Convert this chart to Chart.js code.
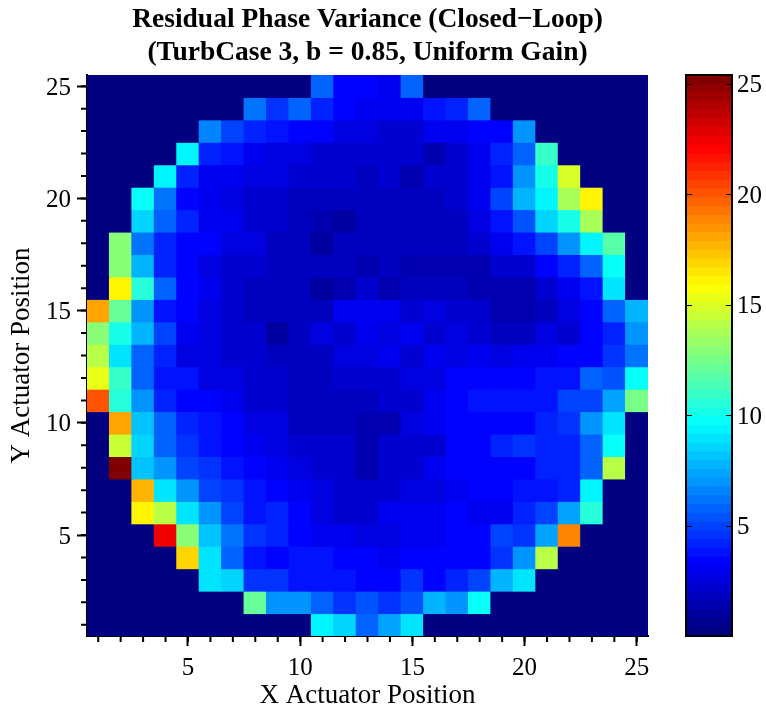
<!DOCTYPE html>
<html>
<head>
<meta charset="utf-8">
<title>Residual Phase Variance</title>
<script src="https://cdn.jsdelivr.net/npm/chart.js@4"></script>
<style>
  body { margin: 0; background: #fff; }
  #wrap { position: relative; width: 766px; height: 711px; overflow: hidden; }
  canvas { position: absolute; top: 0; }
  #mapChart { left: 0; }
  #barChart { left: 660px; }
</style>
</head>
<body>
<div id="wrap">
  <canvas id="mapChart" width="660" height="711"></canvas>
  <canvas id="barChart" width="106" height="711"></canvas>
</div>
<script>
// Actuator positions and labelled ticks
const xLabels = ['1','2','3','4','5','6','7','8','9','10','11','12','13','14','15','16','17','18','19','20','21','22','23','24','25'];
const rowPositions = [25,24,23,22,21,20,19,18,17,16,15,14,13,12,11,10,9,8,7,6,5,4,3,2,1];
const axisTicks = [5,10,15,20,25];

// Variance per cell, top row (y = 25) first
const variance = [
  [0,0,0,0,0,0,0,0,0,0,5.7,3.5,3.4,3.1,5.7,0,0,0,0,0,0,0,0,0,0],
  [0,0,0,0,0,0,0,6.3,4.7,5.6,4,3.4,2.8,3,3,3.8,4.2,5.6,0,0,0,0,0,0,0],
  [0,0,0,0,0,6.7,5.1,4.3,3.6,3.2,3.2,2.7,2.6,2.3,2.3,3,3,3.4,3.4,7,0,0,0,0,0],
  [0,0,0,0,9.5,4.2,3.8,3,2.7,2.5,2.2,2.2,2.1,2.1,2.1,1.3,2,2.8,4.2,5.8,11,0,0,0,0],
  [0,0,0,9.2,4.2,3,2.9,2.5,2.4,2.3,2.2,2.1,1.6,2,1.5,2,2,3,3.7,6.8,10,15,0,0,0],
  [0,0,9.6,6.3,3.5,2.9,2.4,2.3,2.2,1.7,1.7,1.7,1.6,1.6,1.6,1.8,2.2,2.9,4.9,7.6,9.2,13.6,16.2,0,0],
  [0,0,8.4,5.8,4,2.9,2.9,2.1,2.1,1.7,1.2,1.1,1.7,1.7,1.7,1.6,1.9,2.7,3.7,5.4,8.4,10.2,13.6,0,0],
  [0,12.7,6.3,4.2,3.4,3.2,2.7,2.4,1.9,1.8,1.1,1.7,1.7,1.7,1.7,1.6,1.6,2.3,2.9,3.7,5.1,6.9,9.3,11.7,0],
  [0,12.7,7.6,4.2,3.2,2.4,2.2,2.2,1.8,1.7,1.7,1.7,1.4,1.9,1.3,1.2,1.2,1.3,2.2,2.2,3.2,4.2,5.9,9.6,0],
  [0,16.2,10.4,5.6,3.5,3,2.2,1.6,1.6,1.7,0.9,1.4,2,1.3,1.9,1.9,1.9,1.4,1.2,1.5,2.2,3,3.6,8.9,0],
  [18,12,7,3.8,3.4,2.4,2.2,1.7,1.8,1.8,1.6,2.8,2.9,2.9,2.2,2.7,2.2,2.1,1.3,1.2,1.8,2.4,3.2,5.6,7.6],
  [12.7,10,7.8,4.9,3,2.6,2.3,2.2,0.9,1.8,2.4,2.2,2.9,2.5,3,2,2.4,2.1,1.8,1.8,2.4,2.2,3.2,4.2,7],
  [14,8.9,5.8,4.1,2.7,2.7,2.2,2.2,1.9,1.9,1.9,2.7,2.7,3.1,2.3,3,2.5,2.9,2.6,3,3,3.5,3.5,4.5,6.3],
  [15.4,10.8,5.9,3.7,3.7,2.7,2.5,2.3,2.3,1.9,1.9,2.1,2.1,2.1,2.7,2.7,3.4,3.4,3.4,3.4,3.7,3.7,5.9,5.2,9.6],
  [20.2,10.4,7.1,4.3,3.2,3.4,3,2.2,2.2,1.8,1.8,1.8,1.6,2.1,2.1,2.9,3.2,3.7,3.7,3.7,3.7,4.8,4.8,7.4,12.4],
  [0,18,8.3,5.6,4.3,3.7,3.4,2.7,2.4,1.8,1.8,1.8,1.4,1.4,2.6,3,3.4,3.4,3.5,3.5,4,4.5,6.8,8.9,0],
  [0,14.4,8.7,5.9,4.7,3.6,3.4,2.8,2.7,2.2,2.2,2.1,1.5,2,2,2.3,3.3,3.3,4,4.6,4,4.3,5.9,9.6,0],
  [0,25.4,8.3,6.9,5.1,4.4,3.8,3.2,3,2.7,2.2,2.2,1.5,2.1,2.1,3,3.2,3.4,3.4,3.4,4,4,5.8,13.9,0],
  [0,0,17.5,8.9,6.9,4.9,4.4,3.6,3.2,2.9,2.4,2.2,2.1,2.1,2.6,2.5,2.9,3.5,3.2,3.6,3.6,4.2,9.5,0,0],
  [0,0,15.9,14,8.9,6.9,5.1,3.8,4.1,3.2,2.7,2.2,2.1,3,3,3,3.3,2.9,2.9,4,5.1,7.4,10.7,0,0],
  [0,0,0,22.6,12.7,8.3,6.2,4.4,4.2,3.4,2.9,2.9,2.5,2.5,3,3,3.2,3.3,5.1,4.6,7.3,18.8,0,0,0],
  [0,0,0,0,16.7,9,5.8,3.8,3.2,3.7,3.7,3.2,3.2,3,3.2,3.2,3.2,3.3,4.5,6.9,13.9,0,0,0,0],
  [0,0,0,0,0,9,8.4,4.5,4.5,3.7,3.7,3.7,3.2,3.5,4.5,3.2,4.3,5.1,7.6,8.9,0,0,0,0,0],
  [0,0,0,0,0,0,0,12,7,7,5.6,4.5,5.2,4.4,5.2,7.6,6.9,9.6,0,0,0,0,0,0,0],
  [0,0,0,0,0,0,0,0,0,0,9.4,8.5,5.8,7.4,9,0,0,0,0,0,0,0,0,0,0],
];

const colorMax = 25.4;
const colorLevels = 64;
const serif = "'Liberation Serif', 'Times New Roman', serif";

// Jet colormap, split into discrete levels like the colour bar
function jetColor(value) {
  const level = Math.min(colorLevels - 1, Math.floor((value / colorMax) * colorLevels));
  const t = level / (colorLevels - 1);
  const channel = (c) => Math.round(255 * Math.max(0, Math.min(1, 1.5 - Math.abs(4 * t - c))));
  return `rgb(${channel(3)},${channel(2)},${channel(1)})`;
}

// Chart.js has one tick length per axis, so the short ticks go here
const minorTicks = {
  id: 'minorTicks',
  afterDraw(chart) {
    const { ctx, chartArea, scales } = chart;
    ctx.save();
    ctx.strokeStyle = '#000';
    ctx.lineWidth = 2;
    ctx.beginPath();
    rowPositions.forEach((v) => {
      const y = scales.y.getPixelForValue(v);
      ctx.moveTo(chartArea.left - 6, y);
      ctx.lineTo(chartArea.left, y);
    });
    xLabels.forEach((label, i) => {
      const x = scales.x.getPixelForValue(i);
      ctx.moveTo(x, chartArea.bottom);
      ctx.lineTo(x, chartArea.bottom + 6);
    });
    ctx.stroke();
    ctx.restore();
  },
};

new Chart(document.getElementById('mapChart').getContext('2d'), {
  type: 'bar',
  data: {
    labels: xLabels,
    datasets: variance.map((row, r) => ({
      data: row.map((v) => [rowPositions[r] - 0.5, rowPositions[r] + 0.5]),
      backgroundColor: row.map((v) => jetColor(v)),
      borderWidth: 0,
      inflateAmount: 0.5,
      barPercentage: 1,
      categoryPercentage: 1,
    })),
  },
  options: {
    responsive: false,
    animation: false,
    layout: { padding: { left: 0, right: 12, top: 0, bottom: 0 } },
    plugins: {
      legend: { display: false },
      tooltip: { enabled: false },
      title: {
        display: true,
        fullSize: false,
        text: ['Residual Phase Variance (Closed\u2212Loop)', '(TurbCase 3, b = 0.85, Uniform Gain)'],
        color: '#000',
        font: { family: serif, size: 27.5, weight: 'bold', lineHeight: 1.2 },
        padding: { top: 3, bottom: 6 },
      },
    },
    scales: {
      x: {
        stacked: true,
        afterBuildTicks(scale) {
          scale.ticks = axisTicks.map((v) => ({ value: v - 1 }));
        },
        afterFit(scale) {
          scale.height = 75;
        },
        grid: { offset: false, drawOnChartArea: false, tickLength: 10, tickWidth: 2, tickColor: '#000' },
        border: { display: true, color: '#000', width: 2 },
        ticks: {
          autoSkip: false,
          maxRotation: 0,
          color: '#000',
          padding: 7,
          font: { family: serif, size: 25 },
        },
        title: {
          display: true,
          text: 'X Actuator Position',
          color: '#000',
          font: { family: serif, size: 27 },
          padding: { top: 0, bottom: -1 },
        },
      },
      y: {
        min: 0.5,
        max: 25.5,
        afterBuildTicks(scale) {
          scale.ticks = axisTicks.map((v) => ({ value: v }));
        },
        afterFit(scale) {
          scale.width = 87;
        },
        grid: { drawOnChartArea: false, tickLength: 10, tickWidth: 2, tickColor: '#000' },
        border: { display: true, color: '#000', width: 2 },
        ticks: {
          color: '#000',
          padding: 6,
          labelOffset: 2,
          font: { family: serif, size: 25 },
        },
        title: {
          display: true,
          text: 'Y Actuator Position',
          color: '#000',
          font: { family: serif, size: 27 },
          padding: { top: 6, bottom: 0 },
        },
      },
    },
  },
  plugins: [minorTicks],
});

// Colour bar frame and its inward ticks
const barFrame = {
  id: 'barFrame',
  afterDraw(chart) {
    const { ctx, chartArea, scales } = chart;
    ctx.save();
    ctx.strokeStyle = '#000';
    ctx.lineWidth = 2;
    ctx.strokeRect(chartArea.left, chartArea.top, chartArea.right - chartArea.left, chartArea.bottom - chartArea.top);
    ctx.lineWidth = 1;
    ctx.beginPath();
    axisTicks.forEach((v) => {
      const y = Math.round(scales.y.getPixelForValue(v)) + 0.5;
      ctx.moveTo(chartArea.left, y);
      ctx.lineTo(chartArea.left + 6, y);
      ctx.moveTo(chartArea.right - 6, y);
      ctx.lineTo(chartArea.right, y);
    });
    ctx.stroke();
    ctx.restore();
  },
};

const barBands = [];
const barColors = [];
for (let i = 0; i < colorLevels; i++) {
  const lo = (i / colorLevels) * colorMax;
  const hi = ((i + 1) / colorLevels) * colorMax;
  barBands.push([lo, hi]);
  barColors.push(jetColor((lo + hi) / 2));
}

new Chart(document.getElementById('barChart').getContext('2d'), {
  type: 'bar',
  data: {
    labels: [''],
    datasets: barBands.map((band, i) => ({
      data: [band],
      backgroundColor: barColors[i],
      borderWidth: 0,
      inflateAmount: 0.5,
      barPercentage: 1,
      categoryPercentage: 1,
    })),
  },
  options: {
    responsive: false,
    animation: false,
    layout: { padding: { left: 26, right: 0, top: 75, bottom: 0 } },
    plugins: { legend: { display: false }, tooltip: { enabled: false } },
    scales: {
      x: {
        stacked: true,
        afterFit(scale) {
          scale.height = 75;
        },
        grid: { display: false },
        border: { display: false },
        ticks: { display: false },
      },
      y: {
        position: 'right',
        min: 0,
        max: colorMax,
        afterBuildTicks(scale) {
          scale.ticks = axisTicks.map((v) => ({ value: v }));
        },
        afterFit(scale) {
          scale.width = 34;
        },
        grid: { display: false, tickLength: 0 },
        border: { display: false },
        ticks: {
          color: '#000',
          padding: 5,
          labelOffset: 2,
          font: { family: serif, size: 25 },
        },
      },
    },
  },
  plugins: [barFrame],
});
</script>
</body>
</html>
